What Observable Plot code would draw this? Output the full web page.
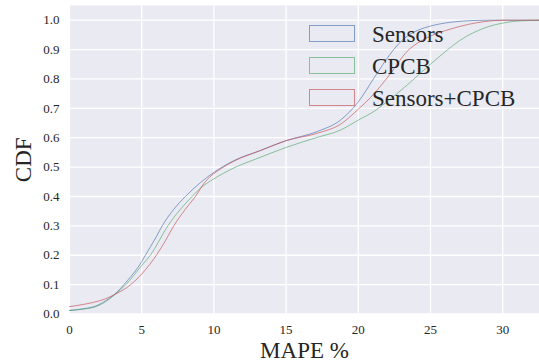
<!DOCTYPE html>
<html>
<head>
<meta charset="utf-8">
<script src="https://cdn.jsdelivr.net/npm/d3@7"></script>
<script src="https://cdn.jsdelivr.net/npm/@observablehq/plot@0.6"></script>
<style>
  body { margin: 0; background: #ffffff; }
  #chart { width: 539px; height: 364px; }
  g[aria-label="x-axis label"] text,
  g[aria-label="y-axis label"] text { font-size: 23px; }
</style>
</head>
<body>
<div id="chart"></div>
<script>
// Series names and colours (seaborn "deep" palette)
const seriesNames = ["Sensors", "CPCB", "Sensors+CPCB"];
const seriesColors = ["#4C72B0", "#55A868", "#C44E52"];

// Empirical CDF of MAPE (%) per model
const sensorsMape = [0, 1, 1.7, 2.5, 3.07, 4.0, 5.0, 5.26, 6.0, 6.42, 7.2, 8.03, 9.06, 10, 11.38, 13.2, 15, 17.15, 18.77, 20, 21.1, 22.2, 22.8, 23.4, 24.2, 25, 26.4, 28, 29, 32.6];
const sensorsCdf  = [0.012, 0.018, 0.025, 0.045, 0.065, 0.113, 0.178, 0.2, 0.262, 0.3, 0.355, 0.4, 0.447, 0.482, 0.522, 0.556, 0.59, 0.621, 0.66, 0.722, 0.804, 0.884, 0.92, 0.946, 0.967, 0.98, 0.993, 0.999, 1.0, 1.0];

const cpcbMape = [0, 1, 1.7, 2.5, 3.07, 4.0, 5.0, 5.6, 6.81, 8.49, 9.06, 10, 11.38, 13.2, 15, 17.15, 18.77, 20, 21.1, 22.2, 23.4, 24.2, 25, 26.2, 27, 28, 29, 30, 31, 32.6];
const cpcbCdf  = [0.012, 0.017, 0.023, 0.042, 0.063, 0.105, 0.165, 0.2, 0.3, 0.4, 0.428, 0.46, 0.497, 0.533, 0.567, 0.601, 0.626, 0.66, 0.69, 0.731, 0.78, 0.815, 0.85, 0.9, 0.93, 0.958, 0.978, 0.99, 0.997, 1.0];

const bothMape = [0, 1, 1.7, 2.5, 3.07, 4.0, 5.0, 6.07, 6.65, 7.22, 8.0, 8.72, 9.4, 10, 10.5, 11.38, 13.2, 15, 17.15, 18.77, 20, 20.85, 22.2, 23.4, 24.2, 25, 26.4, 28.7, 30, 32.6];
const bothCdf  = [0.025, 0.033, 0.04, 0.052, 0.065, 0.091, 0.136, 0.204, 0.25, 0.3, 0.355, 0.4, 0.45, 0.478, 0.495, 0.52, 0.556, 0.59, 0.615, 0.646, 0.697, 0.737, 0.816, 0.895, 0.925, 0.946, 0.97, 0.995, 1.0, 1.0];

// Axis ticks
const xTicks = [0, 5, 10, 15, 20, 25, 30];
const yTicks = [0, 0.1, 0.2, 0.3, 0.4, 0.5, 0.6, 0.7, 0.8, 0.9, 1.0];

const seriesData = [
  [seriesNames[0], sensorsMape, sensorsCdf],
  [seriesNames[1], cpcbMape, cpcbCdf],
  [seriesNames[2], bothMape, bothCdf]
];
const rows = seriesData.flatMap(([name, xs, ys]) =>
  xs.map((x, i) => ({series: name, mape: x, cdf: ys[i]}))
);

const textColor = "#262626";
const serif = "'Liberation Serif', 'Times New Roman', serif";

const chart = Plot.plot({
  width: 539,
  height: 364,
  marginLeft: 69,
  marginRight: 0,
  marginTop: 5,
  marginBottom: 50.5,
  style: {background: "#ffffff", color: textColor, fontSize: "13px", fontFamily: serif},
  x: {domain: [0, 32.55]},
  y: {domain: [0, 1.05]},
  color: {domain: seriesNames, range: seriesColors},
  marks: [
    Plot.frame({fill: "#EAEAF2", stroke: null}),
    Plot.gridX(xTicks, {stroke: "#ffffff", strokeOpacity: 1, strokeWidth: 1.3}),
    Plot.gridY(yTicks, {stroke: "#ffffff", strokeOpacity: 1, strokeWidth: 1.3}),
    Plot.axisX({
      ticks: xTicks, tickSize: 0, tickPadding: 10.5, fontSize: 13,
      tickFormat: d3.format("d"),
      label: "MAPE %", labelAnchor: "center", labelArrow: "none", labelOffset: 43.5
    }),
    Plot.axisY({
      ticks: yTicks, tickSize: 0, tickPadding: 10, fontSize: 13,
      tickFormat: d3.format(".1f"),
      label: "CDF", labelAnchor: "center", labelArrow: "none", labelOffset: 55
    }),
    Plot.line(rows, {
      x: "mape", y: "cdf", z: "series", stroke: "series",
      curve: "monotone-x", strokeWidth: 1, strokeOpacity: 0.65, clip: true
    })
  ]
});

// Legend: outlined patches with series names, top right inside the frame
const svg = d3.select(chart);
const legend = svg.append("g").attr("class", "legend")
  .attr("text-anchor", "start")
  .attr("font-family", serif);
seriesNames.forEach((name, i) => {
  legend.append("rect")
    .attr("x", 309.5).attr("y", 25.5 + i * 32)
    .attr("width", 45).attr("height", 16)
    .attr("fill", "none")
    .attr("stroke", seriesColors[i])
    .attr("stroke-opacity", 0.65)
    .attr("stroke-width", 1);
  legend.append("text")
    .attr("x", 372).attr("y", 42 + i * 32)
    .attr("fill", textColor)
    .attr("font-size", 23)
    .text(name);
});

document.getElementById("chart").appendChild(chart);
</script>
</body>
</html>
